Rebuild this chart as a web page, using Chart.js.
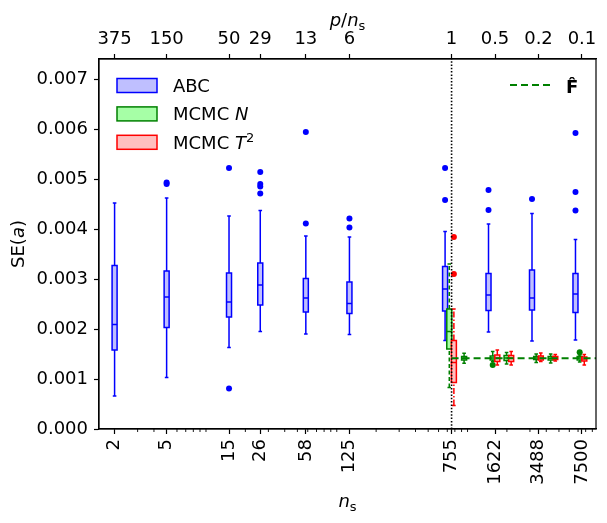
<!DOCTYPE html>
<html>
<head>
<meta charset="utf-8">
<script src="https://cdn.jsdelivr.net/npm/chart.js@4.4.1/dist/chart.umd.min.js"></script>
<style>
html, body { margin: 0; padding: 0; background: #fff; }
</style>
</head>
<body>
<canvas id="c" width="607" height="523"></canvas>
<script>
// tick values / labels
var nsTicks = [2, 5, 15, 26, 58, 125, 755, 1622, 3488, 7500];
var pTickLabels = ['375', '150', '50', '29', '13', '6', '1', '0.5', '0.2', '0.1'];
var yTicks = [0, 0.001, 0.002, 0.003, 0.004, 0.005, 0.006, 0.007];

// ABC boxes
var abcN    = [2, 5, 15, 26, 58, 125, 755, 1622, 3488, 7500];
var abcLow  = [0.00066, 0.00103, 0.00163, 0.00195, 0.00190, 0.00189, 0.00177, 0.00194, 0.00176, 0.00178];
var abcQ1   = [0.00158, 0.00203, 0.00224, 0.00248, 0.00234, 0.00231, 0.00236, 0.00237, 0.00238, 0.00233];
var abcMed  = [0.00209, 0.00264, 0.00254, 0.00288, 0.00262, 0.00251, 0.00280, 0.00268, 0.00262, 0.00270];
var abcQ3   = [0.00327, 0.00316, 0.00312, 0.00332, 0.00301, 0.00294, 0.00325, 0.00311, 0.00318, 0.00311];
var abcHigh = [0.00452, 0.00462, 0.00426, 0.00437, 0.00386, 0.00384, 0.00395, 0.00410, 0.00431, 0.00379];
var abcFliers = [[], [0.00493, 0.00490], [0.00522, 0.00081], [0.00514, 0.00490, 0.00485, 0.00471],
                 [0.00594, 0.00411], [0.00421, 0.00403], [0.00522, 0.00458], [0.00478, 0.00438],
                 [0.00460], [0.00592, 0.00474, 0.00437]];

// MCMC N boxes
var mN     = [755, 980, 1622, 2070, 3488, 4500, 7500];
var mNLow  = [0.00083, 0.001315, 0.00135, 0.00130, 0.00133, 0.00132, 0.00134];
var mNQ1   = [0.00160, 0.00138, 0.00138, 0.00137, 0.00139, 0.00138, 0.00138];
var mNMed  = [0.00195, 0.001415, 0.00142, 0.00142, 0.00142, 0.001415, 0.00142];
var mNQ3   = [0.00240, 0.00145, 0.00146, 0.00147, 0.00145, 0.00145, 0.00145];
var mNHigh = [0.00330, 0.001515, 0.00155, 0.00153, 0.00150, 0.00150, 0.00148];
var mNFliers = [[], [], [0.00128], [], [], [], [0.001535]];

// MCMC T^2 boxes
var mT     = [755, 1622, 2070, 3488, 4500, 7500];
var mTLow  = [0.00047, 0.00128, 0.00128, 0.00135, 0.00136, 0.00128];
var mTQ1   = [0.00093, 0.00135, 0.00135, 0.00138, 0.00139, 0.00136];
var mTMed  = [0.00133, 0.00142, 0.00142, 0.00142, 0.00142, 0.00140];
var mTQ3   = [0.00177, 0.00148, 0.00147, 0.00146, 0.00145, 0.00144];
var mTHigh = [0.00240, 0.00158, 0.00155, 0.00152, 0.00149, 0.00149];
var mTFliers = [[0.00310, 0.00384], [], [], [], [], []];

var fHat = 0.001415;

var xMin = 1.52, xMax = 9600, yMax = 0.0074;

var FONT = '"DejaVu Sans"';
var R18 = '18px ' + FONT, I18 = 'italic 18px ' + FONT, R13 = '13px ' + FONT;

function makeBoxes(ns, low, q1, med, q3, high, fl) {
    var out = [];
    for (var i = 0; i < ns.length; i++) {
        out.push({n: ns[i], low: low[i], q1: q1[i], med: med[i], q3: q3[i], high: high[i], fl: fl[i]});
    }
    return out;
}

var groups = [
    {boxes: makeBoxes(abcN, abcLow, abcQ1, abcMed, abcQ3, abcHigh, abcFliers),
     edge: '#0000ff', fill: 'rgba(0,0,255,0.25)', dash: [],
     shift: function (n) { return mN.indexOf(n) >= 0 ? -6.5 : 0; }},
    {boxes: makeBoxes(mN, mNLow, mNQ1, mNMed, mNQ3, mNHigh, mNFliers),
     edge: '#008000', fill: 'rgba(0,255,0,0.35)', dash: [4, 2.5],
     shift: function () { return -2.3; }},
    {boxes: makeBoxes(mT, mTLow, mTQ1, mTMed, mTQ3, mTHigh, mTFliers),
     edge: '#ff0000', fill: 'rgba(255,0,0,0.25)', dash: [6, 2, 1.5, 2],
     shift: function () { return 2.3; }}
];

var boxPlugin = {
    id: 'boxes',
    beforeDatasetsDraw: function (chart) {
        var ctx = chart.ctx, xs = chart.scales.x, ys = chart.scales.y;
        var hw = 2.5, cw = 1.8;
        groups.forEach(function (g) {
            g.boxes.forEach(function (b) {
                var cx = xs.getPixelForValue(b.n) + g.shift(b.n);
                var yl = ys.getPixelForValue(b.low), y1 = ys.getPixelForValue(b.q1),
                    ym = ys.getPixelForValue(b.med), y3 = ys.getPixelForValue(b.q3),
                    yh = ys.getPixelForValue(b.high);
                ctx.save();
                ctx.strokeStyle = g.edge;
                ctx.lineWidth = 1.5;
                ctx.setLineDash(g.dash);
                ctx.beginPath();
                ctx.moveTo(cx, yl); ctx.lineTo(cx, y1);
                ctx.moveTo(cx, y3); ctx.lineTo(cx, yh);
                ctx.stroke();
                ctx.setLineDash([]);
                ctx.beginPath();
                ctx.moveTo(cx - cw, yl); ctx.lineTo(cx + cw, yl);
                ctx.moveTo(cx - cw, yh); ctx.lineTo(cx + cw, yh);
                ctx.stroke();
                ctx.fillStyle = '#fff';
                ctx.fillRect(cx - hw, y3, 2 * hw, y1 - y3);
                ctx.fillStyle = g.fill;
                ctx.fillRect(cx - hw, y3, 2 * hw, y1 - y3);
                ctx.strokeRect(cx - hw, y3, 2 * hw, y1 - y3);
                ctx.beginPath();
                ctx.moveTo(cx - hw, ym); ctx.lineTo(cx + hw, ym);
                ctx.stroke();
                ctx.fillStyle = g.edge;
                b.fl.forEach(function (v) {
                    ctx.beginPath();
                    ctx.arc(cx, ys.getPixelForValue(v), 3, 0, Math.PI * 2);
                    ctx.fill();
                });
                ctx.restore();
            });
        });
    }
};

function drawRich(ctx, parts, x, y, align) {
    var w = 0;
    parts.forEach(function (p) { ctx.font = p.f; w += ctx.measureText(p.t).width; });
    if (align === 'center') x -= w / 2;
    ctx.textAlign = 'left';
    ctx.textBaseline = 'alphabetic';
    parts.forEach(function (p) {
        ctx.font = p.f;
        ctx.fillText(p.t, x, y + (p.dy || 0));
        x += ctx.measureText(p.t).width;
    });
}

var decoPlugin = {
    id: 'deco',
    afterDraw: function (chart) {
        var ctx = chart.ctx, a = chart.chartArea, xs = chart.scales.x;
        ctx.save();
        ctx.strokeStyle = '#000';
        ctx.lineWidth = 1.2;
        ctx.strokeRect(a.left, a.top, a.right - a.left, a.bottom - a.top);
        // minor ticks on the bottom log axis
        ctx.lineWidth = 0.9;
        ctx.beginPath();
        for (var d = 0; d < 4; d++) {
            for (var m = 1; m < 10; m++) {
                var v = m * Math.pow(10, d);
                if (v < xMin || v > xMax || nsTicks.indexOf(v) >= 0) continue;
                var px = xs.getPixelForValue(v);
                ctx.moveTo(px, a.bottom); ctx.lineTo(px, a.bottom + 3);
            }
        }
        ctx.stroke();

        ctx.fillStyle = '#000';
        // axis titles
        drawRich(ctx, [{t: 'n', f: I18}, {t: 's', f: R13, dy: 4}], (a.left + a.right) / 2, 507, 'center');
        drawRich(ctx, [{t: 'p', f: I18}, {t: '/', f: R18}, {t: 'n', f: I18}, {t: 's', f: R13, dy: 4}],
            (a.left + a.right) / 2, 26, 'center');
        ctx.save();
        ctx.translate(18, (a.top + a.bottom) / 2);
        ctx.rotate(-Math.PI / 2);
        drawRich(ctx, [{t: 'SE(', f: R18}, {t: 'a', f: I18}, {t: ')', f: R18}], 0, 6, 'center');
        ctx.restore();

        // legend (upper left)
        var rows = [
            {edge: '#0000ff', fill: 'rgba(0,0,255,0.25)', parts: [{t: 'ABC', f: R18}]},
            {edge: '#008000', fill: 'rgba(0,255,0,0.35)', parts: [{t: 'MCMC ', f: R18}, {t: 'N', f: I18}]},
            {edge: '#ff0000', fill: 'rgba(255,0,0,0.25)', parts: [{t: 'MCMC ', f: R18}, {t: 'T', f: I18}, {t: '2', f: R13, dy: -7}]}
        ];
        rows.forEach(function (r, i) {
            var top = 78.5 + i * 28.4;
            ctx.fillStyle = r.fill;
            ctx.fillRect(117, top, 40, 14);
            ctx.strokeStyle = r.edge;
            ctx.lineWidth = 1.5;
            ctx.strokeRect(117, top, 40, 14);
            ctx.fillStyle = '#000';
            drawRich(ctx, r.parts, 173, top + 13.5, 'left');
        });

        // legend (upper right)
        ctx.strokeStyle = '#008000';
        ctx.lineWidth = 2.2;
        ctx.setLineDash([7, 4]);
        ctx.beginPath();
        ctx.moveTo(510, 85); ctx.lineTo(550, 85);
        ctx.stroke();
        ctx.setLineDash([]);
        ctx.fillStyle = '#000';
        drawRich(ctx, [{t: 'F\u0302', f: 'bold 18px ' + FONT}], 566, 93, 'left');
        ctx.restore();
    }
};

var tickFont = {family: 'DejaVu Sans', size: 18};

new Chart(document.getElementById('c'), {
    type: 'scatter',
    data: {
        datasets: [
            {data: [{x: 755, y: fHat}, {x: xMax, y: fHat}], showLine: true,
             borderColor: '#008000', borderWidth: 2.2, borderDash: [7, 4], pointRadius: 0},
            {data: [{x: 755, y: 0}, {x: 755, y: yMax}], showLine: true,
             borderColor: '#000', borderWidth: 1.6, borderDash: [1.5, 1.8], pointRadius: 0}
        ]
    },
    options: {
        responsive: false,
        animation: false,
        layout: {padding: {left: 0, right: 11, top: 0, bottom: 0}},
        plugins: {legend: {display: false}, tooltip: {enabled: false}},
        scales: {
            x: {
                type: 'logarithmic', position: 'bottom', min: xMin, max: xMax,
                afterBuildTicks: function (s) { s.ticks = nsTicks.map(function (v) { return {value: v}; }); },
                afterFit: function (s) { s.height = 94; s.paddingLeft = 0; s.paddingRight = 0; },
                ticks: {autoSkip: false, minRotation: 90, maxRotation: 90, padding: 5, color: '#000', font: tickFont,
                        callback: function (v, i) { return String(nsTicks[i]); }},
                grid: {drawOnChartArea: false, tickLength: 5, tickWidth: 1.2, tickColor: '#000'},
                border: {display: true, color: '#000', width: 1.2}
            },
            x2: {
                type: 'logarithmic', position: 'top', axis: 'x', display: true, min: xMin, max: xMax,
                afterBuildTicks: function (s) { s.ticks = nsTicks.map(function (v) { return {value: v}; }); },
                afterFit: function (s) { s.height = 59; s.paddingLeft = 0; s.paddingRight = 0; },
                ticks: {autoSkip: false, minRotation: 0, maxRotation: 0, padding: 4, color: '#000', font: tickFont,
                        callback: function (v, i) { return pTickLabels[i]; }},
                grid: {drawOnChartArea: false, tickLength: 5, tickWidth: 1.2, tickColor: '#000'},
                border: {display: true, color: '#000', width: 1.2}
            },
            y: {
                type: 'linear', min: 0, max: yMax,
                afterBuildTicks: function (s) { s.ticks = yTicks.map(function (v) { return {value: v}; }); },
                afterFit: function (s) { s.width = 99; },
                ticks: {padding: 6, color: '#000', font: tickFont,
                        callback: function (v) { return v.toFixed(3); }},
                grid: {drawOnChartArea: false, tickLength: 5, tickWidth: 1.2, tickColor: '#000'},
                border: {display: true, color: '#000', width: 1.2}
            }
        }
    },
    plugins: [boxPlugin, decoPlugin]
});
</script>
</body>
</html>
